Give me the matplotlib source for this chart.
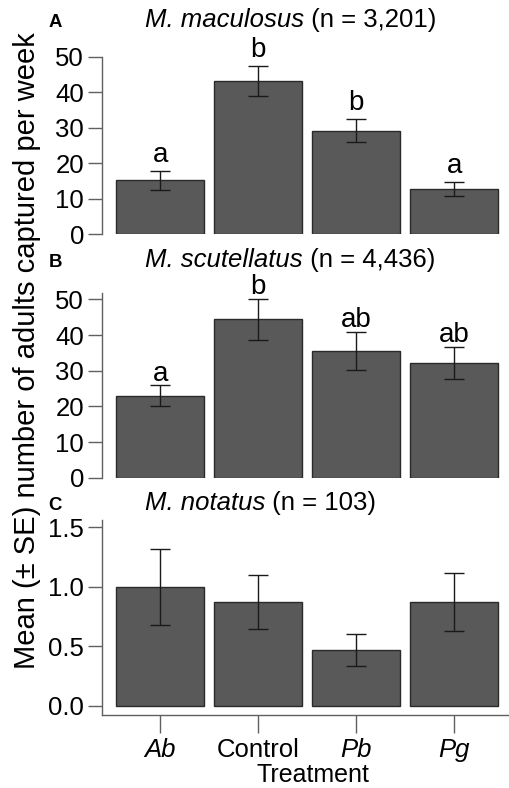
import matplotlib
matplotlib.use("Agg")
import matplotlib.pyplot as plt
import numpy as np

plt.rcParams['font.family'] = ['Liberation Sans', 'DejaVu Sans']

treatments = ["Ab", "Control", "Pb", "Pg"]
italic_ticks = [True, False, True, True]

maculosus_mean = [15.2, 43.1, 29.2, 12.7]
maculosus_se = [2.6, 4.3, 3.3, 2.0]
maculosus_letters = ["a", "b", "b", "a"]

scutellatus_mean = [23.0, 44.4, 35.6, 32.2]
scutellatus_se = [2.9, 5.7, 5.35, 4.5]
scutellatus_letters = ["a", "b", "ab", "ab"]

notatus_mean = [1.0, 0.87, 0.465, 0.87]
notatus_se = [0.32, 0.23, 0.133, 0.245]

W, H = 510, 788
fig = plt.figure(figsize=(W / 100, H / 100), dpi=100)
renderer = fig.canvas.get_renderer()

def ax_at(left, top, right, bottom):
    return fig.add_axes([left / W, 1 - bottom / H, (right - left) / W, (bottom - top) / H])

bar_face = "#595959"
bar_edge = "#2a2a2a"
spine_col = "#606060"
x = np.arange(len(treatments))

panels = [
    dict(top=56.7, bottom=234.3, ylim=(0, 50), yticks=[0, 10, 20, 30, 40, 50], fmt="{:.0f}",
         mean=maculosus_mean, se=maculosus_se, letters=maculosus_letters, loff=6.5,
         species="M. maculosus", n=" (n = 3,201)", tag="A", base=26.7),
    dict(top=293.3, bottom=477.7, ylim=(0, 51.7), yticks=[0, 10, 20, 30, 40, 50], fmt="{:.0f}",
         mean=scutellatus_mean, se=scutellatus_se, letters=scutellatus_letters, loff=3.3,
         species="M. scutellatus", n=" (n = 4,436)", tag="B", base=266.7),
    dict(top=520, bottom=714.7, ylim=(-0.076, 1.56), yticks=[0.0, 0.5, 1.0, 1.5], fmt="{:.1f}",
         mean=notatus_mean, se=notatus_se, letters=None, loff=0,
         species="M. notatus", n=" (n = 103)", tag="C", base=510),
]

for i, p in enumerate(panels):
    ax = ax_at(102, p["top"], 510, p["bottom"])
    ax.bar(x, p["mean"], width=0.9, color=bar_face, edgecolor=bar_edge, linewidth=1.0, zorder=2)
    ax.errorbar(x, p["mean"], yerr=p["se"], fmt="none", ecolor="#1a1a1a", elinewidth=1.0,
                capsize=7.2, capthick=1.0, zorder=3)
    ax.set_xlim(-0.595, 3.568)
    ax.set_ylim(*p["ylim"])
    ax.set_yticks(p["yticks"])
    ax.set_yticklabels([p["fmt"].format(v) for v in p["yticks"]], fontsize=18.5)
    for s in ["top", "right"]:
        ax.spines[s].set_visible(False)
    ax.spines["left"].set_color(spine_col)
    ax.spines["left"].set_linewidth(1.0)
    ax.tick_params(axis="y", length=10, width=1.0, color=spine_col, pad=3)
    if i < 2:
        ax.spines["bottom"].set_visible(False)
        ax.set_xticks([])
    else:
        ax.spines["bottom"].set_color(spine_col)
        ax.spines["bottom"].set_linewidth(1.0)
        ax.set_xticks(x)
        ax.set_xticklabels(treatments, fontsize=18.5)
        for lab, it in zip(ax.get_xticklabels(), italic_ticks):
            if it:
                lab.set_fontstyle("italic")
        ax.tick_params(axis="x", length=13, width=1.0, color=spine_col, pad=4)
    ax.patch.set_visible(False)
    if p["letters"]:
        for xi, m, s, l in zip(x, p["mean"], p["se"], p["letters"]):
            ax.annotate(l, (xi, m + s), xytext=(0, p["loff"]), textcoords="offset points",
                        ha="center", va="baseline", fontsize=20)
    t1 = fig.text(145 / W, 1 - p["base"] / H, p["species"], fontsize=18.5, fontstyle="italic",
                  ha="left", va="baseline")
    bb = t1.get_window_extent(renderer=renderer)
    fig.text(bb.x1 / W, 1 - p["base"] / H, p["n"], fontsize=18.5, ha="left", va="baseline")
    fig.text(55 / W, 1 - p["base"] / H, p["tag"], fontsize=13.4, fontweight="bold",
             ha="center", va="baseline")

fig.text(313 / W, 1 - 782 / H, "Treatment", fontsize=18, ha="center", va="baseline")
fig.text(27 / W, 1 - 351 / H, "Mean (± SE) number of adults captured per week", fontsize=21,
         rotation=90, ha="center", va="center")

fig.savefig("out.png", dpi=100)
